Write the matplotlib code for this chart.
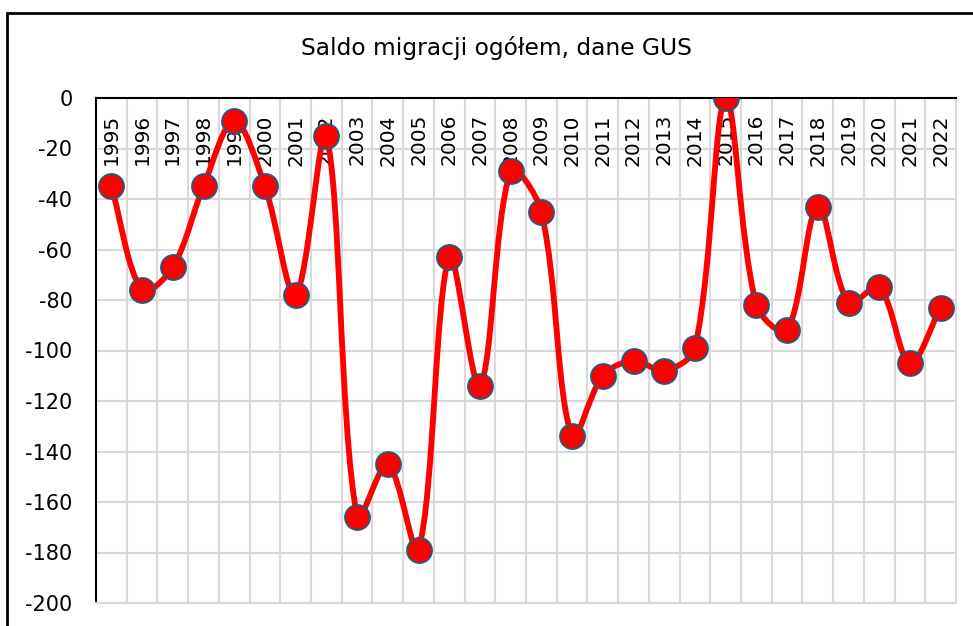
import matplotlib
matplotlib.use('Agg')
import matplotlib.pyplot as plt
from matplotlib.path import Path
from matplotlib.patches import PathPatch, Rectangle
from matplotlib.transforms import blended_transform_factory

years = [str(y) for y in range(1995, 2023)]
saldo = [-35, -76, -67, -35, -9, -35, -78, -15, -166, -145, -179, -63, -114, -29,
         -45, -134, -110, -104, -108, -99, 0, -82, -92, -43, -81, -75, -105, -83]

title = 'Saldo migracji ogółem, dane GUS'
line_color = '#FF0000'
edge_color = '#1F5C80'
grid_color = '#D9D9D9'

plt.rcParams['font.family'] = ['DejaVu Sans']
plt.rcParams['axes.unicode_minus'] = False

fig = plt.figure(figsize=(9.73, 6.26), dpi=100)
ax_w, ax_h = 860, 505
ax = fig.add_axes([96 / 973, 1 - 603 / 626, ax_w / 973, ax_h / 626])

xs = list(range(len(saldo)))
n = len(saldo)

# pixel scale, used for chord lengths of the smoothing
sx = ax_w / n
sy = ax_h / 200


def dist(a, b):
    return (((a[0] - b[0]) * sx) ** 2 + ((a[1] - b[1]) * sy) ** 2) ** 0.5


# smoothed line like Excel: bezier segments, tangents scaled by chord length
pts = list(zip(xs, saldo))
verts = [pts[0]]
codes = [Path.MOVETO]
for i in range(n - 1):
    p0 = pts[max(i - 1, 0)]
    p1 = pts[i]
    p2 = pts[i + 1]
    p3 = pts[min(i + 2, n - 1)]
    d01, d12, d23 = dist(p0, p1), dist(p1, p2), dist(p2, p3)
    f1 = d12 / (d01 + d12) / 3
    f2 = d12 / (d12 + d23) / 3
    c1 = (p1[0] + (p2[0] - p0[0]) * f1, p1[1] + (p2[1] - p0[1]) * f1)
    c2 = (p2[0] - (p3[0] - p1[0]) * f2, p2[1] - (p3[1] - p1[1]) * f2)
    verts += [c1, c2, p2]
    codes += [Path.CURVE4] * 3
curve = PathPatch(Path(verts, codes), facecolor='none', edgecolor=line_color,
                  linewidth=4.2, capstyle='round', joinstyle='round', zorder=4)
ax.add_patch(curve)

ax.plot(xs, saldo, 'o', markersize=18, markerfacecolor=line_color,
        markeredgecolor=edge_color, markeredgewidth=1.3, zorder=5)

ax.set_xlim(-0.5, n - 0.5)
ax.set_ylim(-200, 0)

ax.set_xticks([i + 0.5 for i in range(n - 1)])
ax.set_xticklabels([])
ax.set_yticks(range(-200, 1, 20))
ax.tick_params(axis='x', length=0)
ax.tick_params(axis='y', length=0, pad=17, labelsize=15)
ax.grid(True, color=grid_color, linewidth=1.5, zorder=0)
ax.set_axisbelow(True)

for side in ['bottom', 'right']:
    ax.spines[side].set_color(grid_color)
    ax.spines[side].set_linewidth(1.5)
for side in ['left', 'top']:
    ax.spines[side].set_color('black')
    ax.spines[side].set_linewidth(1.5)

trans = blended_transform_factory(ax.transData, ax.transAxes)
for i, label in enumerate(years):
    ax.text(i, 1 - 16 / ax_h, label, transform=trans, rotation=90,
            ha='center', va='top', fontsize=14.5, zorder=3)

fig.text(496.5 / 973, 1 - 48 / 626, title, ha='center', va='center', fontsize=16.8)

fig.add_artist(Rectangle((7 / 973, -0.1), 1.0, 1 - 13 / 626 + 0.1,
                         transform=fig.transFigure, fill=False,
                         edgecolor='black', linewidth=2))

plt.savefig('out.png')
